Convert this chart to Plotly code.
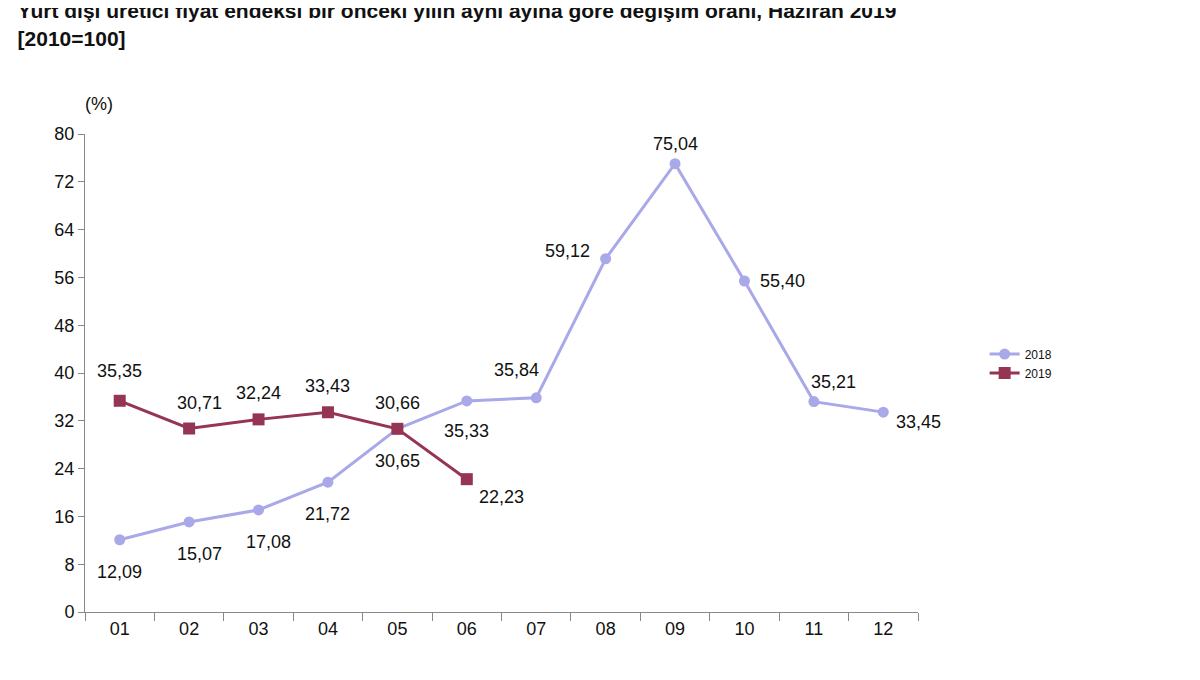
import plotly.graph_objects as go

months = ["01", "02", "03", "04", "05", "06", "07", "08", "09", "10", "11", "12"]
values_2018 = [12.09, 15.07, 17.08, 21.72, 30.65, 35.33, 35.84, 59.12, 75.04, 55.40, 35.21, 33.45]
values_2019 = [35.35, 30.71, 32.24, 33.43, 30.66, 22.23]
y_ticks = [0, 8, 16, 24, 32, 40, 48, 56, 64, 72, 80]

# label offsets (px) for each point
off_2018 = [(0, 32), (10, 32), (10, 32), (0, 32), (0, 32), (0, 30),
            (-20, -28), (-38, -8), (0, -20), (38, 0), (20, -20), (35, 10)]
off_2019 = [(0, -30), (10, -26), (0, -26), (0, -26), (0, -26), (35, 18)]

c18 = "#a9a8e8"
c19 = "#953553"
fnt = dict(family="Liberation Sans, Arial", size=18, color="#111")

fig = go.Figure()
fig.add_trace(go.Scatter(x=months, y=values_2018, name="2018", mode="lines+markers",
                         line=dict(color=c18, width=3), marker=dict(size=11, color=c18)))
fig.add_trace(go.Scatter(x=months[:6], y=values_2019, name="2019", mode="lines+markers",
                         line=dict(color=c19, width=3), marker=dict(size=12, color=c19, symbol="square")))

def fmt(v):
    return f"{v:.2f}".replace(".", ",")

# category index positions for annotations
for i, (v, (dx, dy)) in enumerate(zip(values_2018, off_2018)):
    fig.add_annotation(x=i, y=v, text=fmt(v), showarrow=False, xshift=dx, yshift=-dy, font=fnt)
for i, (v, (dx, dy)) in enumerate(zip(values_2019, off_2019)):
    fig.add_annotation(x=i, y=v, text=fmt(v), showarrow=False, xshift=dx, yshift=-dy, font=fnt)

fig.add_annotation(x=0, y=1.02, xref="paper", yref="paper", xanchor="right", yanchor="bottom",
                   xshift=30, yshift=8, text="(%)", showarrow=False, font=fnt)

fig.update_layout(
    width=1200, height=680,
    margin=dict(l=77, r=290, t=126, b=76),
    plot_bgcolor="white", paper_bgcolor="white",
    font=fnt,
    title=dict(text="<b>Yurt dışı üretici fiyat endeksi bir önceki yılın aynı ayına göre değişim oranı, Haziran 2019<br>[2010=100]</b>",
               x=0.008, xanchor="left", y=0.985, yanchor="top",
               font=dict(family="Liberation Sans, Arial", size=21, color="#111")),
    legend=dict(x=1.08, y=0.57, xanchor="left", yanchor="top", tracegroupgap=30,
                font=dict(size=12), bgcolor="rgba(0,0,0,0)"),
    xaxis=dict(type="category", range=[-0.5, 11.5], showline=True, linecolor="#888",
               ticks="outside", tickson="boundaries", ticklen=8, tickcolor="#888",
               showgrid=False, tickfont=fnt),
    yaxis=dict(range=[0, 80], tickvals=y_ticks, showline=True, linecolor="#888",
               ticks="outside", ticklen=6, tickcolor="#888", showgrid=False,
               zeroline=False, tickfont=fnt),
)

fig.write_html("out.html")
